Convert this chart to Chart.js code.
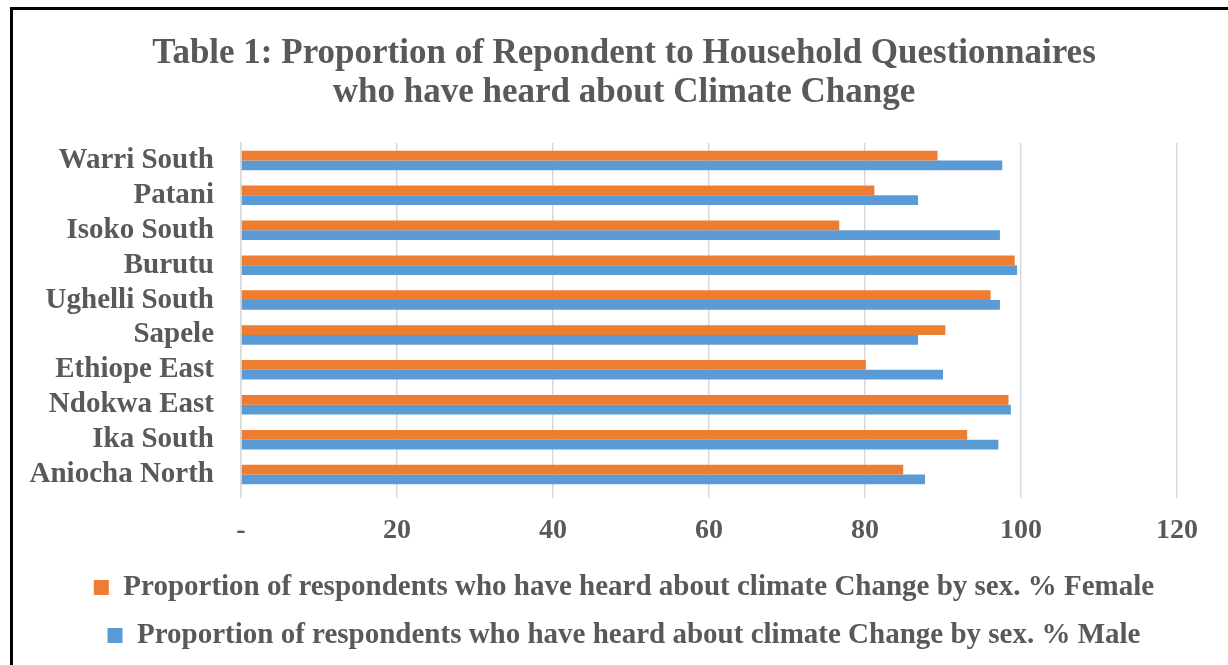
<!DOCTYPE html>
<html>
<head>
<meta charset="utf-8">
<script src="https://cdn.jsdelivr.net/npm/chart.js@4.4.1/dist/chart.umd.min.js"></script>
<style>
  html, body { margin: 0; padding: 0; background: #fff; overflow: hidden; }
  #wrap { position: absolute; left: 0; top: 0; width: 1228px; height: 665px; }
  #frame { position: absolute; left: 10px; top: 7px; width: 1300px; height: 700px; border: 3px solid #000; pointer-events: none; }
</style>
</head>
<body>
<div id="wrap"><canvas id="climateChart"></canvas></div>
<div id="frame"></div>
<script>
const districts = ["Warri South", "Patani", "Isoko South", "Burutu", "Ughelli South",
  "Sapele", "Ethiope East", "Ndokwa East", "Ika South", "Aniocha North"];
const femalePct = [89.3, 81.2, 76.7, 99.2, 96.1, 90.3, 80.1, 98.4, 93.1, 84.9];
const malePct = [97.6, 86.8, 97.3, 99.5, 97.3, 86.8, 90.0, 98.7, 97.1, 87.7];
const xTicks = [0, 20, 40, 60, 80, 100, 120];
const titleLines = ["Table 1: Proportion of Repondent to Household Questionnaires",
  "who have heard about Climate Change"];
const seriesNames = [
  "Proportion of respondents who have heard about climate Change by sex. % Female",
  "Proportion of respondents who have heard about climate Change by sex. % Male"
];

document.addEventListener("DOMContentLoaded", function () {
  const serif = "'Liberation Serif', 'Times New Roman', serif";
  const grey = "#595959";
  const ctx = document.getElementById("climateChart").getContext("2d");

  new Chart(ctx, {
    type: "bar",
    data: {
      labels: districts,
      datasets: [
        {
          label: seriesNames[0],
          data: femalePct,
          backgroundColor: "#ED7D31",
          categoryPercentage: 0.56,
          barPercentage: 1,
        },
        {
          label: seriesNames[1],
          data: malePct,
          backgroundColor: "#5B9BD5",
          categoryPercentage: 0.56,
          barPercentage: 1,
        },
      ],
    },
    options: {
      indexAxis: "y",
      responsive: true,
      maintainAspectRatio: false,
      animation: false,
      layout: {
        padding: { left: 25, right: 5, top: 0, bottom: 5 },
      },
      plugins: {
        title: {
          display: true,
          text: titleLines,
          color: grey,
          font: { family: serif, size: 35, weight: "bold", lineHeight: 1.1 },
          padding: { top: 35, bottom: 31 },
        },
        legend: {
          display: true,
          position: "bottom",
          labels: {
            color: grey,
            font: { family: serif, size: 29, weight: "bold" },
            boxWidth: 15,
            boxHeight: 15,
            padding: 19,
          },
        },
        tooltip: { enabled: false },
      },
      scales: {
        x: {
          min: 0,
          max: 120,
          afterBuildTicks: function (axis) {
            axis.ticks = xTicks.map(function (v) { return { value: v }; });
          },
          afterFit: function (axis) {
            axis.height = 62;
          },
          ticks: {
            color: grey,
            font: { family: serif, size: 28, weight: "bold" },
            padding: 16,
            callback: function (value) {
              return value === 0 ? "-" : value;
            },
          },
          grid: {
            color: "#d9d9d9",
            lineWidth: 1.5,
            tickLength: 6,
          },
          border: { display: false },
        },
        y: {
          afterFit: function (axis) {
            axis.width = 216;
          },
          ticks: {
            color: grey,
            font: { family: serif, size: 29, weight: "bold" },
            padding: 27,
            autoSkip: false,
          },
          grid: { display: false, drawTicks: false },
          border: { display: true, color: "#d9d9d9", width: 1.5 },
        },
        // empty spacer on the right so the plot ends where the reference does
        spacer: {
          type: "linear",
          axis: "y",
          position: "right",
          display: true,
          ticks: { display: false },
          grid: { display: false, drawTicks: false },
          border: { display: false },
          afterFit: function (axis) {
            axis.width = 46;
          },
        },
      },
    },
  });
});
</script>
</body>
</html>
